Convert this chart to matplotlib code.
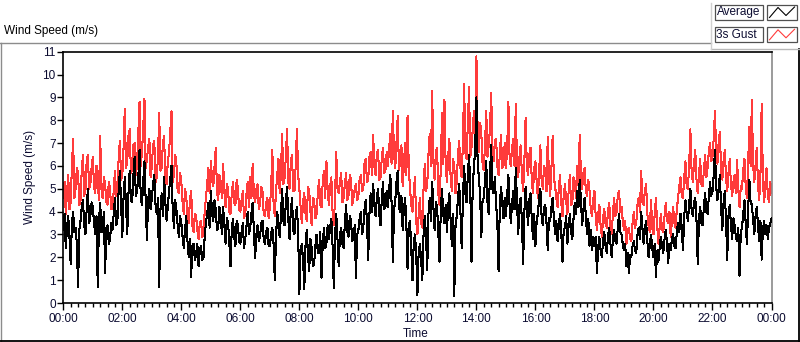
import numpy as np
import matplotlib
matplotlib.use("Agg")
import matplotlib.pyplot as plt
from matplotlib.lines import Line2D
from matplotlib.patches import Rectangle
from matplotlib.ticker import MultipleLocator, FixedLocator

plt.rcParams['font.family'] = ['Liberation Sans', 'DejaVu Sans']

# ---- data: 2.5-minute samples, one row per hour (values in m/s) ----
gust_hours = [
    [4.6, 5.3, 3.9, 4.8, 5.6, 4.1, 4.4, 6.0, 7.2, 4.6, 5.0, 5.9, 5.7, 4.3, 4.5, 5.8, 6.5, 4.7, 4.9, 6.2, 6.5, 5.0, 5.2, 5.9],
    [6.4, 5.1, 4.8, 6.0, 5.3, 4.5, 7.3, 5.0, 4.6, 5.5, 5.2, 4.4, 4.3, 5.3, 5.0, 4.1, 4.2, 4.9, 5.8, 4.7, 4.9, 6.3, 7.1, 5.4],
    [5.6, 6.8, 8.5, 5.9, 6.2, 7.3, 7.6, 5.7, 5.8, 6.9, 7.0, 5.6, 6.1, 7.4, 8.8, 6.0, 6.6, 7.7, 8.95, 5.9, 6.3, 6.8, 7.2, 5.5],
    [6.0, 6.9, 7.1, 5.3, 5.5, 6.4, 8.3, 5.8, 5.9, 7.0, 7.3, 5.4, 5.2, 6.2, 6.6, 7.5, 8.4, 5.3, 5.6, 6.5, 6.1, 4.9, 4.8, 5.7],
    [5.3, 4.4, 3.9, 5.0, 4.7, 3.6, 3.5, 4.5, 4.9, 3.4, 3.1, 3.9, 3.8, 3.2, 2.8, 3.5, 3.6, 2.9, 3.0, 4.0, 4.6, 5.2, 5.9, 4.8],
    [6.2, 5.4, 5.1, 6.0, 6.8, 4.9, 4.5, 5.6, 5.3, 4.6, 6.1, 4.9, 4.2, 5.2, 5.0, 4.0, 3.9, 4.8, 5.3, 4.4, 4.3, 5.4, 5.0, 4.1],
    [4.0, 4.5, 4.9, 3.7, 3.9, 4.8, 5.3, 4.2, 5.5, 4.6, 6.1, 4.8, 4.4, 5.0, 5.2, 4.1, 4.3, 5.1, 4.9, 3.9, 3.8, 4.4, 4.6, 3.7],
    [4.2, 5.0, 6.7, 4.4, 3.8, 4.9, 5.6, 6.3, 4.8, 5.7, 7.4, 5.2, 5.5, 6.4, 7.6, 5.3, 5.0, 6.1, 6.5, 4.9, 4.9, 6.0, 7.6, 5.6],
    [5.0, 4.2, 3.5, 4.4, 4.8, 3.9, 3.6, 5.1, 4.9, 4.0, 3.4, 4.6, 4.5, 3.7, 3.9, 4.8, 5.4, 4.3, 4.2, 5.3, 5.8, 4.6, 6.2, 5.0],
    [4.3, 5.1, 5.5, 4.0, 3.4, 4.6, 6.6, 5.0, 4.8, 5.3, 5.7, 4.4, 4.6, 5.2, 5.7, 4.5, 4.7, 5.6, 5.4, 4.3, 4.6, 5.0, 5.2, 4.5],
    [4.7, 5.4, 5.6, 4.9, 5.0, 6.1, 6.3, 5.3, 5.4, 6.4, 6.6, 5.6, 7.35, 6.0, 5.6, 6.5, 6.7, 5.4, 5.5, 6.3, 6.8, 5.7, 5.8, 6.6],
    [6.0, 6.8, 7.4, 6.1, 8.4, 6.5, 5.9, 7.1, 8.2, 5.8, 6.2, 6.9, 5.1, 6.0, 7.0, 5.6, 8.2, 5.9, 5.0, 4.3, 4.0, 4.8, 5.5, 3.6],
    [3.0, 3.8, 4.6, 3.5, 3.3, 5.0, 6.1, 4.9, 5.2, 6.5, 7.4, 6.0, 9.3, 6.2, 5.4, 6.6, 6.8, 4.8, 4.3, 5.9, 8.3, 6.1, 8.9, 6.0],
    [5.3, 6.4, 7.2, 5.5, 4.9, 6.3, 6.0, 4.8, 5.3, 6.5, 7.1, 5.9, 5.5, 7.0, 9.6, 6.6, 6.3, 7.8, 9.45, 6.4, 6.8, 7.6, 8.4, 7.0],
    [10.8, 7.5, 6.6, 7.9, 7.4, 6.1, 5.8, 7.0, 8.4, 6.4, 6.9, 7.6, 9.2, 6.8, 6.2, 7.1, 7.2, 6.0, 5.6, 6.5, 7.35, 5.9, 6.0, 7.0],
    [5.9, 6.7, 8.8, 6.3, 6.0, 6.8, 7.2, 6.0, 8.7, 6.1, 5.5, 6.4, 6.9, 5.6, 4.9, 6.2, 8.1, 6.0, 5.6, 6.5, 6.8, 5.4, 4.8, 5.9],
    [6.2, 5.3, 4.6, 5.7, 6.9, 5.4, 5.0, 6.0, 5.8, 4.9, 7.25, 5.6, 4.7, 5.9, 7.3, 5.5, 5.1, 4.6, 4.2, 5.0, 5.6, 4.4, 3.8, 4.7],
    [5.2, 4.5, 3.9, 4.9, 5.6, 4.3, 4.4, 5.5, 5.3, 4.6, 6.0, 5.2, 7.35, 5.6, 5.0, 5.7, 5.9, 4.9, 4.7, 5.4, 4.9, 4.1, 3.8, 4.5],
    [4.9, 3.8, 3.2, 3.9, 4.3, 3.4, 2.9, 3.7, 4.1, 3.5, 3.3, 4.0, 4.4, 3.4, 3.0, 3.9, 4.6, 3.8, 4.0, 4.7, 4.9, 4.0, 4.2, 3.6],
    [3.2, 3.6, 2.6, 3.1, 3.3, 2.8, 2.7, 3.5, 4.0, 3.3, 3.5, 4.3, 4.6, 4.0, 5.8, 4.4, 4.3, 4.9, 5.2, 3.9, 3.4, 3.1, 4.5, 3.3],
    [3.0, 3.9, 4.6, 3.4, 2.6, 3.3, 3.9, 3.2, 3.1, 3.8, 4.4, 3.6, 3.5, 4.0, 2.9, 3.6, 4.2, 3.5, 3.3, 4.1, 4.6, 5.1, 5.5, 4.7],
    [4.6, 5.5, 6.2, 5.1, 5.0, 6.0, 7.6, 5.8, 5.3, 6.1, 6.7, 5.4, 4.8, 5.6, 6.3, 5.2, 5.1, 5.8, 6.5, 5.5, 5.9, 6.6, 7.0, 6.2],
    [6.4, 7.2, 8.4, 6.6, 6.1, 7.0, 7.5, 5.8, 5.4, 6.2, 6.7, 5.5, 4.9, 5.7, 6.3, 5.2, 4.7, 5.3, 5.6, 4.8, 6.25, 5.0, 4.2, 5.1],
    [5.0, 5.8, 6.3, 5.1, 4.6, 6.2, 7.7, 6.0, 8.9, 6.1, 5.3, 6.0, 6.8, 5.2, 4.5, 5.6, 8.7, 5.4, 4.4, 5.2, 5.9, 4.7, 4.4, 5.3, 4.8],
]
average_hours = [
    [3.2, 3.9, 2.4, 3.3, 3.8, 2.9, 1.7, 3.5, 4.0, 3.1, 3.3, 2.6, 0.7, 3.2, 3.6, 4.2, 4.5, 3.4, 3.0, 4.1, 5.0, 3.5, 3.8, 4.4],
    [4.2, 3.5, 3.0, 3.8, 0.7, 3.6, 4.4, 3.1, 3.2, 4.0, 1.3, 3.3, 3.4, 2.6, 2.8, 3.5, 3.2, 3.9, 4.6, 3.4, 3.6, 4.9, 5.8, 4.4],
    [2.9, 4.6, 5.5, 4.2, 3.0, 4.8, 5.8, 4.5, 4.4, 5.6, 6.4, 4.7, 4.9, 5.5, 6.7, 4.6, 4.3, 5.3, 6.2, 4.4, 2.75, 4.5, 5.0, 4.1],
    [4.6, 5.2, 5.6, 4.3, 3.9, 4.6, 0.7, 4.1, 4.8, 3.8, 5.5, 4.4, 3.6, 4.2, 4.9, 5.4, 6.0, 4.0, 3.3, 4.5, 4.1, 3.4, 2.9, 3.8],
    [3.5, 2.9, 2.4, 3.2, 3.8, 2.7, 2.0, 2.8, 1.15, 2.5, 2.6, 1.9, 2.1, 2.6, 1.6, 2.3, 2.5, 1.9, 2.0, 2.9, 3.5, 3.9, 4.4, 3.3],
    [4.9, 3.9, 3.6, 4.5, 4.1, 3.2, 3.3, 4.2, 3.8, 3.0, 4.2, 3.4, 2.6, 3.7, 3.5, 2.7, 1.6, 3.2, 3.7, 2.9, 2.5, 3.6, 3.4, 2.7],
    [2.6, 3.1, 3.5, 2.4, 2.8, 3.4, 4.0, 3.0, 3.3, 3.9, 4.4, 3.2, 1.95, 3.0, 3.4, 2.7, 2.9, 3.5, 3.6, 2.8, 2.6, 3.1, 3.3, 2.5],
    [2.5, 3.0, 3.3, 2.6, 1.0, 2.9, 4.0, 3.3, 2.9, 3.8, 5.0, 3.6, 3.4, 4.4, 5.1, 3.7, 2.8, 4.0, 4.6, 3.2, 3.0, 3.8, 4.2, 3.1],
    [0.4, 2.3, 2.6, 1.9, 0.6, 2.5, 3.2, 2.1, 1.4, 2.8, 2.4, 1.6, 1.7, 2.5, 3.0, 2.2, 2.2, 3.1, 1.1, 2.6, 3.3, 2.4, 2.6, 3.4],
    [2.8, 3.3, 3.7, 2.5, 0.65, 2.9, 3.9, 2.8, 1.6, 3.0, 3.3, 2.6, 2.4, 3.5, 4.3, 3.1, 2.9, 3.8, 3.6, 2.7, 2.8, 3.4, 1.1, 3.0],
    [3.2, 3.7, 4.0, 3.0, 3.3, 4.1, 4.5, 3.5, 1.9, 3.9, 4.8, 4.0, 5.2, 4.3, 3.8, 4.6, 5.0, 3.9, 3.4, 4.5, 5.3, 4.1, 4.2, 4.9],
    [4.2, 5.0, 5.6, 4.4, 1.8, 4.1, 4.5, 5.3, 5.8, 4.2, 4.0, 4.7, 3.2, 4.1, 4.6, 3.5, 1.5, 3.4, 3.6, 2.4, 1.0, 2.6, 3.0, 2.2],
    [0.35, 2.2, 2.6, 1.9, 1.0, 3.0, 3.8, 2.9, 1.45, 3.9, 4.6, 3.6, 5.3, 4.2, 3.2, 4.4, 4.2, 3.1, 1.8, 4.0, 5.0, 3.9, 3.5, 4.3],
    [3.1, 4.2, 4.8, 3.6, 2.5, 3.9, 0.3, 3.4, 3.8, 4.6, 5.2, 4.0, 2.4, 4.5, 6.0, 4.8, 4.4, 5.6, 6.5, 5.0, 1.8, 5.2, 5.9, 6.8],
    [9.0, 6.1, 5.5, 4.7, 2.9, 4.5, 4.6, 5.4, 6.2, 4.4, 3.9, 5.6, 6.9, 5.0, 4.8, 5.5, 4.3, 3.6, 1.4, 4.2, 5.1, 4.4, 3.7, 4.6],
    [3.8, 4.7, 5.6, 4.2, 3.5, 4.4, 4.9, 4.1, 5.9, 4.5, 3.0, 4.3, 4.6, 3.6, 1.7, 4.0, 5.1, 4.2, 3.4, 4.5, 4.8, 3.7, 2.8, 3.9],
    [2.5, 3.6, 3.9, 4.6, 5.0, 3.8, 3.4, 4.2, 4.3, 3.5, 2.3, 3.7, 3.6, 4.2, 4.6, 3.7, 3.0, 3.6, 2.7, 3.4, 3.9, 3.1, 1.8, 3.2],
    [3.3, 3.8, 2.6, 3.4, 3.9, 3.1, 2.8, 3.7, 4.4, 3.9, 4.9, 4.2, 5.4, 4.5, 3.4, 4.1, 4.6, 3.8, 3.0, 3.7, 2.5, 3.2, 2.3, 2.9],
    [2.5, 2.9, 1.3, 2.4, 2.9, 2.3, 2.0, 2.7, 3.1, 2.5, 2.2, 2.9, 3.3, 2.6, 2.0, 2.8, 3.2, 2.7, 2.6, 3.3, 3.9, 3.1, 3.0, 2.6],
    [2.3, 2.6, 1.6, 2.2, 1.3, 2.1, 2.0, 2.5, 2.7, 2.3, 2.2, 3.0, 3.3, 2.8, 4.0, 3.3, 2.6, 3.2, 3.6, 2.7, 2.0, 2.5, 3.0, 2.4],
    [2.0, 2.6, 1.15, 2.3, 1.8, 2.4, 2.9, 2.5, 2.2, 2.8, 3.2, 2.6, 1.75, 2.6, 2.3, 2.8, 3.0, 2.5, 2.4, 3.1, 3.5, 3.1, 3.9, 3.3],
    [2.3, 3.8, 4.5, 3.9, 3.6, 4.3, 5.0, 4.1, 3.8, 4.4, 4.6, 3.6, 1.7, 3.7, 4.2, 3.5, 3.4, 4.2, 4.8, 4.0, 3.9, 4.6, 5.3, 4.7],
    [4.9, 5.6, 6.7, 5.1, 4.5, 5.0, 5.6, 4.2, 3.2, 4.4, 4.9, 3.6, 1.9, 3.8, 4.3, 3.4, 2.8, 3.7, 3.4, 2.9, 2.7, 3.3, 1.2, 3.1],
    [3.3, 3.9, 4.5, 3.5, 2.6, 4.1, 5.4, 4.4, 4.3, 3.7, 3.0, 3.8, 4.2, 3.4, 2.7, 3.6, 1.9, 3.2, 3.6, 3.0, 3.4, 2.8, 3.3, 3.5, 3.7],
]
tick_labels = ["00:00", "02:00", "04:00", "06:00", "08:00", "10:00", "12:00",
               "14:00", "16:00", "18:00", "20:00", "22:00", "00:00"]
series_names = ["Average", "3s Gust"]

def build(rows):
    t, v = [], []
    for i, row in enumerate(rows):
        t.extend(i + np.arange(len(row)) / 24.0)
        v.extend(row)
    return np.array(t), np.array(v, float)

t_gust, gust = build(gust_hours)
t_avg, average = build(average_hours)

W, H = 800, 342
fig = plt.figure(figsize=(W / 100, H / 100), dpi=100)
fig.patch.set_facecolor('white')

def fx(x): return x / W
def fy(y): return 1 - y / H

ax = fig.add_axes([fx(63.3), fy(303.0), (771.5 - 63.3) / W, (303.0 - 51.7) / H])
ax.plot(t_gust, gust, color='#ff3b3b', lw=0.75, zorder=2, antialiased=False)
ax.plot(t_avg, average, color='black', lw=0.75, zorder=3, antialiased=False)

ax.set_xlim(0, 24)
ax.set_ylim(0, 11)
ax.yaxis.set_major_locator(MultipleLocator(1))
ax.xaxis.set_major_locator(FixedLocator(np.arange(0, 25, 2)))
ax.xaxis.set_minor_locator(MultipleLocator(0.25))
ax.set_xticklabels(tick_labels)
txtcol = '#0b0b30'
ax.tick_params(axis='y', direction='out', length=4, width=1, labelsize=8.5,
               colors='black', labelcolor=txtcol, pad=1.5)
ax.tick_params(axis='x', which='major', direction='out', length=5, width=1,
               labelsize=8.5, colors='black', labelcolor=txtcol, pad=2)
ax.tick_params(axis='x', which='minor', direction='out', length=3, width=1,
               colors='black')
for s in ['left', 'top', 'bottom']:
    ax.spines[s].set_color('black')
    ax.spines[s].set_linewidth(1.2)
ax.spines['right'].set_color('#8a8a8a')
ax.spines['right'].set_linewidth(1.2)

fig.text(fx(30), fy(177), "Wind Speed (m/s)", rotation=90, ha='center',
         va='center', fontsize=8.5, color=txtcol)
fig.text(fx(416), fy(334), "Time", ha='center', va='center', fontsize=8.5,
         color=txtcol)
fig.text(fx(4), fy(31), "Wind Speed (m/s)", ha='left', va='center',
         fontsize=8.5, color='black')

# panel frame lines
def hline(x0, x1, y, col, lw=1.0):
    fig.add_artist(Line2D([fx(x0), fx(x1)], [fy(y), fy(y)], color=col, lw=lw))
def vline(x, y0, y1, col, lw=1.0):
    fig.add_artist(Line2D([fx(x), fx(x)], [fy(y0), fy(y1)], color=col, lw=lw))

hline(0, 711, 42.5, '#8c8c8c')
vline(0.5, 42.5, 342, '#8c8c8c')
hline(0, 800, 340.8, 'black', 1.3)
vline(799.2, 49, 342, 'black', 1.3)
hline(711, 800, 48.8, '#b8b8b8')
vline(711, 3, 49, '#d0d0d0')

# legend boxes
for i, (name, col) in enumerate(zip(series_names, ['black', '#ff3b3b'])):
    y0 = 4.5 + i * 22.3
    fig.add_artist(Rectangle((fx(715), fy(y0 + 15.5)), 48 / W, 15.5 / H,
                             fill=False, ec='#505050', lw=0.9))
    fig.add_artist(Rectangle((fx(767), fy(y0 + 15.5)), 29.5 / W, 15.5 / H,
                             fill=False, ec='#505050', lw=0.9))
    fig.text(fx(716.5), fy(y0 + 8), name, ha='left', va='center',
             fontsize=8.5, color=txtcol)
    zx = [769.5, 778, 786, 794.5]
    zy = [y0 + 13, y0 + 3, y0 + 11, y0 + 2.5]
    fig.add_artist(Line2D([fx(v) for v in zx], [fy(v) for v in zy],
                          color=col, lw=0.8))

fig.savefig("out.png", dpi=100, facecolor='white')
